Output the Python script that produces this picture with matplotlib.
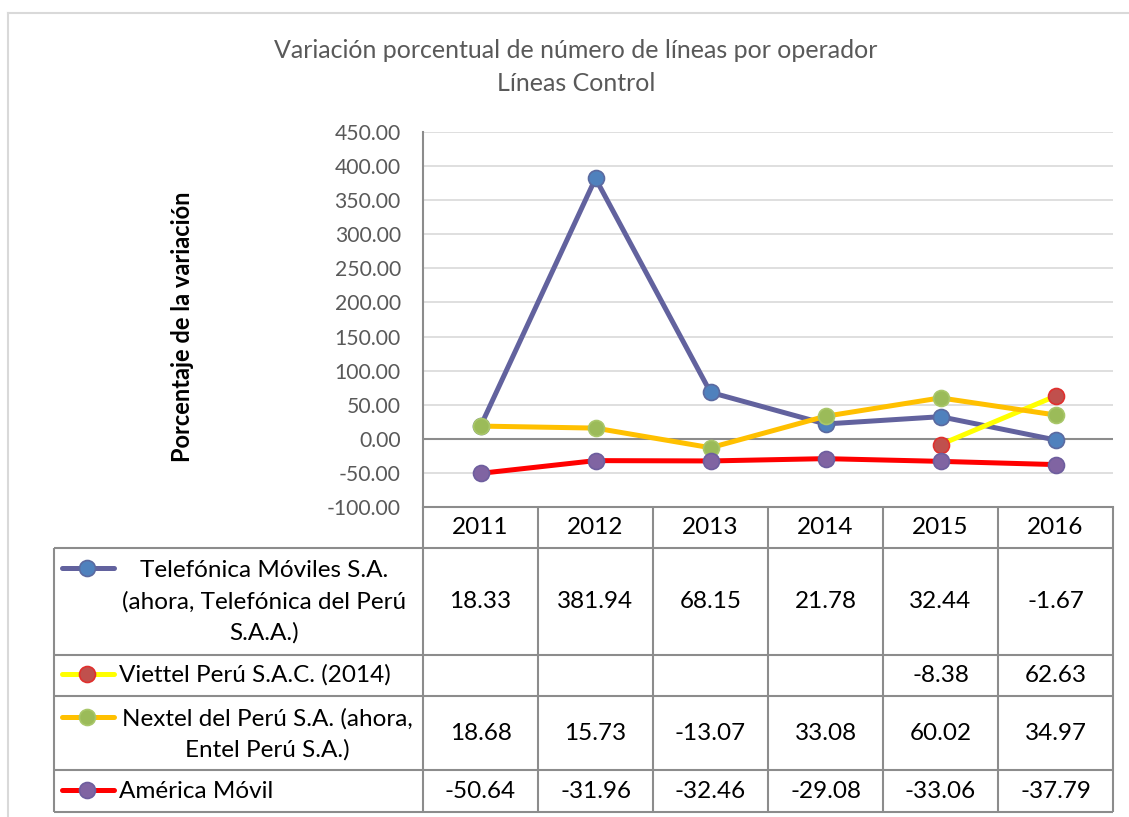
import matplotlib.pyplot as plt
from matplotlib import transforms
from matplotlib.ticker import FormatStrFormatter
import numpy as np

# data
years = ['2011', '2012', '2013', '2014', '2015', '2016']
names = ['Telefónica Móviles S.A.\n(ahora, Telefónica del Perú\nS.A.A.)',
         'Viettel Perú S.A.C. (2014)',
         'Nextel del Perú S.A. (ahora,\nEntel Perú S.A.)',
         'América Móvil']
telefonica = [18.33, 381.94, 68.15, 21.78, 32.44, -1.67]
viettel = [None, None, None, None, -8.38, 62.63]
nextel = [18.68, 15.73, -13.07, 33.08, 60.02, 34.97]
america = [-50.64, -31.96, -32.46, -29.08, -33.06, -37.79]
series = [telefonica, viettel, nextel, america]

# styles: line colour, marker face, marker edge
styles = [('#62629E', '#4F81BD', '#5B6AA0'),
          ('#FFFF00', '#C0504D', '#E0302E'),
          ('#FFC000', '#9BBB59', '#A9C76A'),
          ('#FF0000', '#8064A2', '#6E5E9E')]

W, H = 1129, 817
plt.rcParams['font.family'] = ['Lato', 'DejaVu Sans']
fig = plt.figure(figsize=(W / 100, H / 100), dpi=100)


def px(x0, y0, x1, y1):
    return [x0 / W, 1 - y1 / H, (x1 - x0) / W, (y1 - y0) / H]


# full-figure layer in pixel units for the table and frame
lay = fig.add_axes([0, 0, 1, 1])
lay.set_xlim(0, W)
lay.set_ylim(H, 0)
lay.axis('off')

ax = fig.add_axes(px(423, 132, 1113, 507))
ax.set_facecolor('none')

x = np.arange(len(years))
for vals, (lc, fc, ec) in zip(series, styles):
    y = np.array([np.nan if v is None else v for v in vals], dtype=float)
    ax.plot(x, y, color=lc, lw=3.6, marker='o', ms=11.5, mfc=fc, mec=ec,
            mew=1.2, clip_on=False, zorder=3)

ax.set_xlim(-0.5, len(years) - 0.5)
ax.set_ylim(-100, 450)
ax.set_yticks(np.arange(-100, 451, 50))
ax.yaxis.set_major_formatter(FormatStrFormatter('%.2f'))
ax.set_xticks([])
ax.grid(axis='y', color='#D9D9D9', lw=1.2, zorder=0)
ax.set_axisbelow(True)
ax.axhline(0, color='#8C8C8C', lw=1.5, zorder=1)
for s in ['top', 'right']:
    ax.spines[s].set_visible(False)
for s in ['left', 'bottom']:
    ax.spines[s].set_color('#8C8C8C')
    ax.spines[s].set_linewidth(1.5)
ax.tick_params(axis='y', length=0, pad=16, labelsize=15.2, labelcolor='#595959')

# outer frame
lay.plot([8, W], [13, 13], color='#D9D9D9', lw=1.5)
lay.plot([8, 8], [13, H], color='#D9D9D9', lw=1.5)

# data table below the chart
blend = transforms.blended_transform_factory(ax.transData, lay.transData)
tc = '#8C8C8C'
edges = np.arange(len(years) + 1) - 0.5
lay.vlines(edges, 507, 812, color=tc, lw=1.5, transform=blend)
lay.vlines(54, 548, 812, color=tc, lw=1.5)
lay.hlines([548, 655, 696, 770, 812], 54, 1113, color=tc, lw=1.5)

fs = 17.5
for i, yr in enumerate(years):
    lay.text(i, 527, yr, transform=blend, ha='center', va='center', fontsize=fs)

row_mid = [602, 675, 734, 791]
key_y = [568, 674, 717, 790]
label_pos = [(264, 602, 'center'), (119, 675, 'left'),
             (267, 734, 'center'), (119, 791, 'left')]
for r, vals in enumerate(series):
    for i, v in enumerate(vals):
        if v is not None:
            lay.text(i, row_mid[r], '%.2f' % v, transform=blend,
                     ha='center', va='center', fontsize=fs)
    lc, fc, ec = styles[r]
    lay.plot([62, 114], [key_y[r], key_y[r]], color=lc, lw=3.6,
             solid_capstyle='round')
    lay.plot([87], [key_y[r]], marker='o', ms=11.5, mfc=fc, mec=ec, mew=1.2)
    lx, ly, ha = label_pos[r]
    lay.text(lx, ly, names[r], ha=ha, va='center', multialignment='center',
             fontsize=fs, linespacing=1.55)

fig.text(576 / W, 1 - 67 / H,
         'Variación porcentual de número de líneas por operador\nLíneas Control',
         ha='center', va='center', fontsize=18, color='#595959',
         linespacing=1.5)
fig.text(183 / W, 1 - 327 / H, 'Porcentaje de la variación', rotation=90,
         ha='center', va='center', fontsize=17, fontweight='bold')

fig.savefig('out.png', dpi=100)
